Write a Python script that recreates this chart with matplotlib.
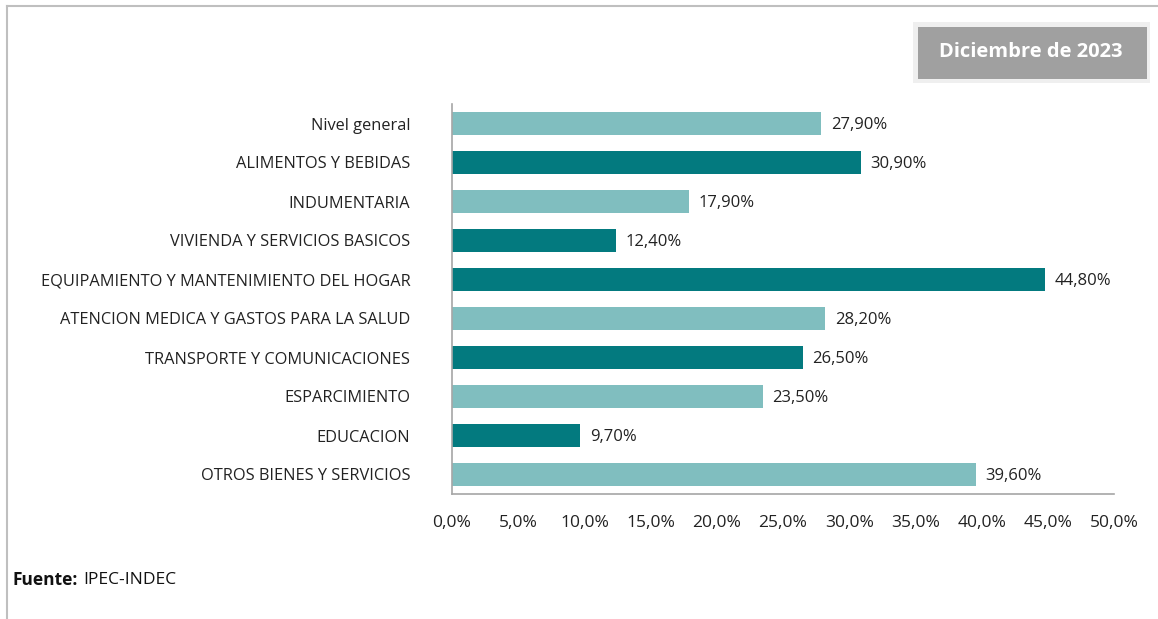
import matplotlib.pyplot as plt
from matplotlib.patches import Rectangle
from matplotlib.lines import Line2D

categorias = ['Nivel general', 'ALIMENTOS Y BEBIDAS', 'INDUMENTARIA',
              'VIVIENDA Y SERVICIOS BASICOS', 'EQUIPAMIENTO Y MANTENIMIENTO DEL HOGAR',
              'ATENCION MEDICA Y GASTOS PARA LA SALUD', 'TRANSPORTE Y COMUNICACIONES',
              'ESPARCIMIENTO', 'EDUCACION', 'OTROS BIENES Y SERVICIOS']
valores = [27.9, 30.9, 17.9, 12.4, 44.8, 28.2, 26.5, 23.5, 9.7, 39.6]
claro, oscuro = '#80BEBF', '#037A7F'
colores = [claro, oscuro, claro, oscuro, oscuro, claro, oscuro, claro, oscuro, claro]
ticks = [0, 5, 10, 15, 20, 25, 30, 35, 40, 45, 50]

plt.rcParams['font.family'] = ['Open Sans', 'DejaVu Sans']

fig = plt.figure(figsize=(11.58, 6.19), dpi=100)
ax = fig.add_axes([452/1158, 1 - 494/619, (1114 - 452)/1158, 390/619])

pos = list(range(len(categorias)))
ax.barh(pos, valores, height=0.57, color=colores)
for y, v in zip(pos, valores):
    ax.text(v + 0.7, y + 0.04, f'{v:.2f}%'.replace('.', ','), va='center', ha='left',
            fontsize=12, color='#222222')

ax.set_ylim(len(categorias) - 0.5, -0.5)
ax.set_xlim(0, 50)
ax.set_yticks(pos)
ax.set_yticklabels(categorias, fontsize=11.8, color='#222222')
ax.set_xticks(ticks)
ax.set_xticklabels([f'{t:.1f}%'.replace('.', ',') for t in ticks], fontsize=12.5, color='#222222')
ax.tick_params(axis='y', length=0, pad=30)
ax.tick_params(axis='x', length=0, pad=15)
for s in ['top', 'right']:
    ax.spines[s].set_visible(False)
ax.spines['left'].set_color('#A6A6A6')
ax.spines['bottom'].set_color('#A6A6A6')
ax.spines['left'].set_linewidth(1.2)
ax.spines['bottom'].set_linewidth(1.2)

# marco exterior
fig.add_artist(Line2D([7/1158, 1], [1 - 6/619, 1 - 6/619], color='#BFBFBF', lw=1.5))
fig.add_artist(Line2D([7/1158, 7/1158], [0, 1 - 6/619], color='#BFBFBF', lw=1.5))

# recuadro de fecha
fig.add_artist(Rectangle((913/1158, 1 - 83/619), 237/1158, 61/619,
                         facecolor='#EFEFEF', edgecolor='none'))
fig.add_artist(Rectangle((918/1158, 1 - 79/619), 229/1158, 52/619,
                         facecolor='#A0A0A0', edgecolor='none'))
fig.text(1031/1158, 1 - 52/619, 'Diciembre de 2023', ha='center', va='center',
         fontsize=14.5, fontweight='bold', color='white')

fig.text(12/1158, 1 - 580/619, 'Fuente:', ha='left', va='center',
         fontsize=12.5, fontweight='bold', color='#111111')
fig.text(83/1158, 1 - 580/619, 'IPEC-INDEC', ha='left', va='center',
         fontsize=12.5, color='#111111')

fig.savefig('out.png', dpi=100)
